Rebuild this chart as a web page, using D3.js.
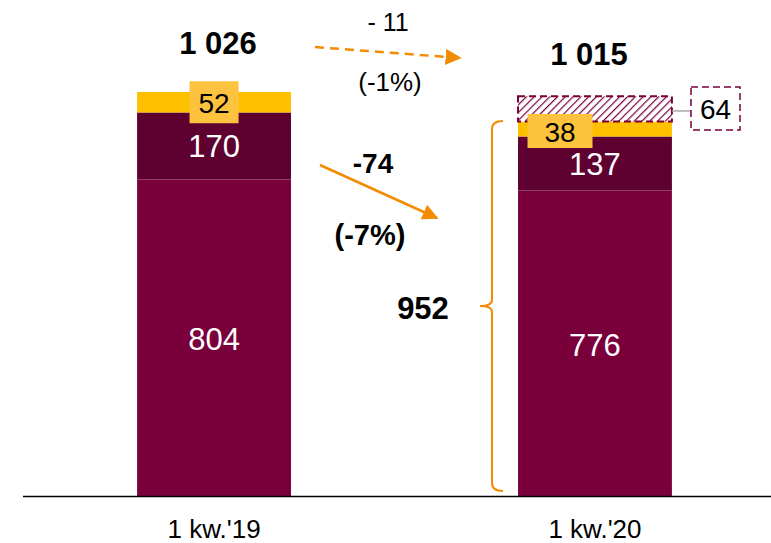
<!DOCTYPE html>
<html>
<head>
<meta charset="utf-8">
<script src="https://cdn.jsdelivr.net/npm/d3@7"></script>
<style>
  html, body { margin: 0; padding: 0; background: #fff; }
  svg { display: block; font-family: "Liberation Sans", Arial, sans-serif; }
</style>
</head>
<body>
<svg id="chart" width="771" height="543"></svg>
<script>
// Quarters shown on the axis
const categories = ["1 kw.'19", "1 kw.'20"];
// Stacked components, bottom to top
const baseValues   = [804, 776];
const middleValues = [170, 137];
const yellowValues = [52, 38];
const hatchValues  = [0, 64];
// Totals printed above the bars
const totalLabels = ["1 026", "1 015"];
// Change annotations
const totalChange = ["- 11", "(-1%)"];
const coreChange  = ["-74", "(-7%)"];
const coreTotal   = "952";

const colors = {
  base: "#7A003C",
  middle: "#5E0030",
  yellow: "#FFC000",
  labelBox: "#FDC33E",
  orange: "#F28C00"
};

const svg = d3.select("#chart");
const baselineY = 496;

const x = d3.scaleBand()
  .domain(categories)
  .range([59, 750])
  .paddingInner(0.596)
  .paddingOuter(0.205);

const y = d3.scaleLinear()
  .domain([0, 1026])
  .range([baselineY, 92]);

// Hatch pattern for the top segment
const defs = svg.append("defs");
const pat = defs.append("pattern")
  .attr("id", "hatch")
  .attr("patternUnits", "userSpaceOnUse")
  .attr("width", 5.5)
  .attr("height", 5.5)
  .attr("patternTransform", "rotate(45)");
pat.append("rect").attr("width", 5.5).attr("height", 5.5).attr("fill", "#fff");
pat.append("line")
  .attr("x1", 0).attr("y1", 0).attr("x2", 0).attr("y2", 5.5)
  .attr("stroke", colors.base).attr("stroke-width", 2.4);

// Build stacked rows
const rows = categories.map((c, i) => ({
  cat: c,
  base: baseValues[i],
  middle: middleValues[i],
  yellow: yellowValues[i],
  hatch: hatchValues[i]
}));
const keys = ["base", "middle", "yellow", "hatch"];
const stacked = d3.stack().keys(keys)(rows);

const g = svg.append("g");
stacked.forEach(layer => {
  g.selectAll(null)
    .data(layer.filter(d => d[1] - d[0] > 0))
    .enter()
    .append("rect")
    .attr("x", d => x(d.data.cat))
    .attr("width", x.bandwidth())
    .attr("y", d => y(d[1]))
    .attr("height", d => y(d[0]) - y(d[1]))
    .attr("fill", layer.key === "hatch" ? "url(#hatch)" : colors[layer.key])
    .attr("stroke", layer.key === "hatch" ? colors.base : "none")
    .attr("stroke-width", layer.key === "hatch" ? 2 : 0)
    .attr("stroke-dasharray", layer.key === "hatch" ? "7,4" : null);
});

// Axis line
svg.append("line")
  .attr("x1", 23).attr("x2", 771)
  .attr("y1", baselineY + 0.5).attr("y2", baselineY + 0.5)
  .attr("stroke", "#000").attr("stroke-width", 1.5);

// Category labels
const xAxis = d3.axisBottom(x).tickSize(0).tickPadding(0);
const axisG = svg.append("g")
  .attr("transform", `translate(0,${baselineY})`)
  .call(xAxis);
axisG.select(".domain").remove();
axisG.selectAll("text")
  .attr("dy", null)
  .attr("y", 42)
  .style("font-size", "26px")
  .style("font-family", "Liberation Sans, Arial, sans-serif")
  .attr("fill", "#000");

// Segment labels inside bars (white)
const whiteLabel = (cx, cy, txt) => svg.append("text")
  .attr("x", cx).attr("y", cy)
  .attr("text-anchor", "middle")
  .attr("dominant-baseline", "central")
  .attr("fill", "#fff")
  .style("font-size", "31px")
  .text(txt);

categories.forEach((c, i) => {
  const cx = x(c) + x.bandwidth() / 2;
  whiteLabel(cx, (y(0) + y(baseValues[i])) / 2 + 2, baseValues[i]);
  whiteLabel(cx, (y(baseValues[i]) + y(baseValues[i] + middleValues[i])) / 2 + 1, middleValues[i]);
});

// Yellow value boxes
function boxLabel(cx, cy, w, h, txt) {
  svg.append("rect")
    .attr("x", cx - w / 2).attr("y", cy - h / 2)
    .attr("width", w).attr("height", h)
    .attr("fill", colors.labelBox);
  svg.append("text")
    .attr("x", cx).attr("y", cy + 1)
    .attr("text-anchor", "middle")
    .attr("dominant-baseline", "central")
    .style("font-size", "28px")
    .attr("fill", "#000")
    .text(txt);
}
{
  const c0 = x(categories[0]) + x.bandwidth() / 2;
  const yl0 = (y(baseValues[0] + middleValues[0]) + y(baseValues[0] + middleValues[0] + yellowValues[0])) / 2;
  boxLabel(c0, yl0, 49, 42, yellowValues[0]);
  const yl1 = (y(baseValues[1] + middleValues[1]) + y(baseValues[1] + middleValues[1] + yellowValues[1])) / 2;
  boxLabel(x(categories[1]) + 42, yl1 + 2, 65, 34, yellowValues[1]);
}

// Hatched segment callout
{
  const right = x(categories[1]) + x.bandwidth();
  const top1 = baseValues[1] + middleValues[1] + yellowValues[1];
  const cy = (y(top1) + y(top1 + hatchValues[1])) / 2 + 2;
  svg.append("line")
    .attr("x1", right).attr("x2", 691)
    .attr("y1", cy).attr("y2", cy)
    .attr("stroke", "#a6a6a6").attr("stroke-width", 1.5);
  svg.append("rect")
    .attr("x", 691).attr("y", 87).attr("width", 49).attr("height", 43)
    .attr("fill", "#fff")
    .attr("stroke", colors.base).attr("stroke-width", 1.5)
    .attr("stroke-dasharray", "7,4");
  svg.append("text")
    .attr("x", 715.5).attr("y", 109.5)
    .attr("text-anchor", "middle")
    .attr("dominant-baseline", "central")
    .style("font-size", "28px")
    .text(hatchValues[1]);
}

// Totals above bars
svg.append("text")
  .attr("x", 218).attr("y", 54)
  .attr("text-anchor", "middle")
  .style("font-size", "31px").style("font-weight", "bold")
  .text(totalLabels[0]);
svg.append("text")
  .attr("x", 589).attr("y", 65)
  .attr("text-anchor", "middle")
  .style("font-size", "31px").style("font-weight", "bold")
  .text(totalLabels[1]);

// Arrow heads
defs.append("marker")
  .attr("id", "arrow")
  .attr("viewBox", "0 0 10 10")
  .attr("refX", 9).attr("refY", 5)
  .attr("markerWidth", 16).attr("markerHeight", 16)
  .attr("markerUnits", "userSpaceOnUse")
  .attr("orient", "auto")
  .append("path")
  .attr("d", "M0,0 L10,5 L0,10 Z")
  .attr("fill", colors.orange);

// Total change (dashed)
svg.append("line")
  .attr("x1", 315).attr("y1", 47).attr("x2", 460).attr("y2", 58)
  .attr("stroke", colors.orange).attr("stroke-width", 2.5)
  .attr("stroke-dasharray", "9,6")
  .attr("marker-end", "url(#arrow)");
svg.append("text")
  .attr("x", 388).attr("y", 31)
  .attr("text-anchor", "middle")
  .style("font-size", "25px")
  .text(totalChange[0]);
svg.append("text")
  .attr("x", 390).attr("y", 91)
  .attr("text-anchor", "middle")
  .style("font-size", "26px")
  .text(totalChange[1]);

// Core change (solid)
svg.append("line")
  .attr("x1", 320).attr("y1", 165).attr("x2", 437).attr("y2", 218)
  .attr("stroke", colors.orange).attr("stroke-width", 2.5)
  .attr("marker-end", "url(#arrow)");
svg.append("text")
  .attr("x", 373).attr("y", 173)
  .attr("text-anchor", "middle")
  .style("font-size", "28px").style("font-weight", "bold")
  .text(coreChange[0]);
svg.append("text")
  .attr("x", 370).attr("y", 245)
  .attr("text-anchor", "middle")
  .style("font-size", "29px").style("font-weight", "bold")
  .text(coreChange[1]);

// Brace spanning the core part of the second bar
{
  const xb = 492, top = 121, bot = 491, mid = 306;
  const path = `M503,${top} Q492,${top} ${xb},${top + 8} L${xb},${mid - 6} Q${xb},${mid} 480,${mid}
                Q${xb},${mid} ${xb},${mid + 6} L${xb},${bot - 8} Q${xb},${bot} 503,${bot}`;
  svg.append("path")
    .attr("d", path)
    .attr("fill", "none")
    .attr("stroke", colors.orange)
    .attr("stroke-width", 2);
  svg.append("text")
    .attr("x", 423).attr("y", 319)
    .attr("text-anchor", "middle")
    .style("font-size", "31px").style("font-weight", "bold")
    .text(coreTotal);
}
</script>
</body>
</html>
